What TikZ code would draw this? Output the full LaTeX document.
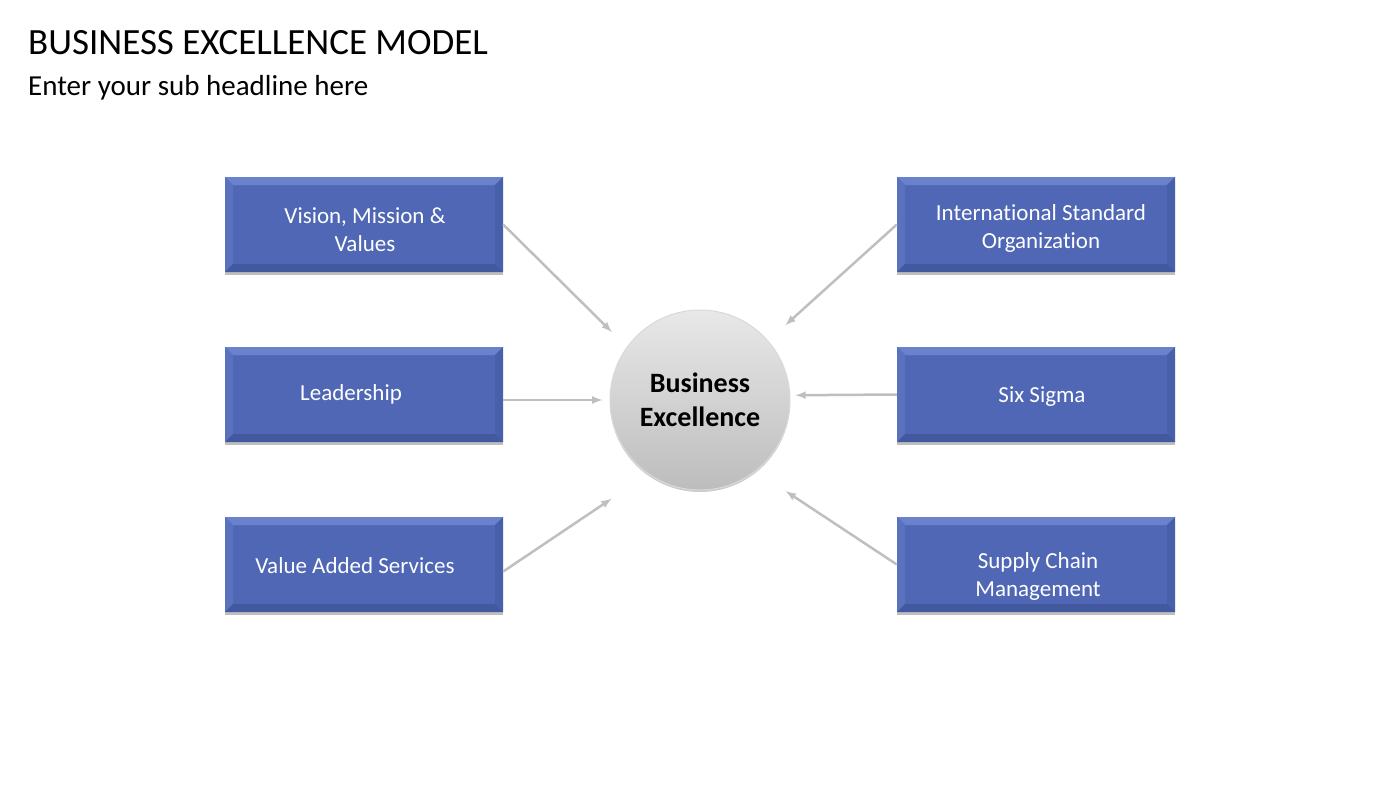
\documentclass[tikz,border=0pt]{standalone}
\usepackage{fontspec}
\setmainfont[Ligatures={NoCommon}]{Carlito}
\usetikzlibrary{positioning,shadows,calc}
\definecolor{boxblue}{HTML}{4F67B4}
\definecolor{bevtop}{HTML}{6A82CC}
\definecolor{bevleft}{HTML}{5A72BE}
\definecolor{bevright}{HTML}{4660AA}
\definecolor{bevbottom}{HTML}{43599F}
\definecolor{linkgray}{HTML}{BFBFBF}

\begin{document}
\begin{tikzpicture}[x=1pt,y=-1pt,
tile/.style={
		minimum width=278pt,
		minimum height=95pt,
		inner sep=0pt,
		fill=boxblue,
		drop shadow={shadow xshift=0pt, shadow yshift=-3pt, opacity=0.25, fill=black},
		path picture={
			\def \b {8}
			\coordinate (nw) at (path picture bounding box.north west);
			\coordinate (se) at (path picture bounding box.south east);
			\fill[bevtop] (nw) -- (nw -| se) -- ($(nw -| se)+(-\b,\b)$) -- ($(nw)+(\b,\b)$) -- cycle;
			\fill[bevleft] (nw) -- (nw |- se) -- ($(nw |- se)+(\b,-\b)$) -- ($(nw)+(\b,\b)$) -- cycle;
			\fill[bevright] (se) -- (nw -| se) -- ($(nw -| se)+(-\b,\b)$) -- ($(se)+(-\b,-\b)$) -- cycle;
			\fill[bevbottom] (se) -- (nw |- se) -- ($(nw |- se)+(\b,-\b)$) -- ($(se)+(-\b,-\b)$) -- cycle;
		}
		},
tiletext/.style={
		text=white,
		align=center,
		inner sep=0pt,
		font=\fontsize{23}{28}\selectfont,
		},
core/.style={
		circle,
		minimum size=180pt,
		inner sep=0pt,
		draw=gray!30,
		line width=1pt,
		top color=gray!18,
		bottom color=gray!52,
		align=center,
		font=\fontsize{28}{34}\selectfont\bfseries,
		drop shadow={shadow xshift=0pt, shadow yshift=-2pt, opacity=0.2, fill=black},
		},
link/.style={->, >=latex, draw=linkgray, line width=2.5pt}
]

\useasboundingbox (0,0) rectangle (1400,788);

% headline
\node[anchor=base west, inner sep=0pt, font=\fontsize{37}{42}\selectfont] (title) at (28,54) {BUSINESS EXCELLENCE MODEL};
\node[anchor=base west, inner sep=0pt, font=\fontsize{29}{33}\selectfont] (subtitle) at (28,95) {Enter your sub headline here};

% centre
\node[core] (core) at (700,400) {Business\\Excellence};

% boxes
\foreach \name/\px/\py/\dx/\dy/\txt in {vmv/364/224.5/1/5/{Vision, Mission \&\\Values},
  lead/364/394.5/-13/0/Leadership, vas/364/564.5/-9/1/Value Added Services,
  iso/1036/224.5/5/4/{International Standard\\Organization}, six/1036/394.5/6/2/Six Sigma,
  scm/1036/564.5/2/12/{Supply Chain\\Management}}
{
  \node[tile] (\name) at (\px,\py) {};
  \node[tiletext] (\name-txt) at ($(\name.center)+(\dx,\dy)$) {\txt};
}

\draw[link, shorten >=21pt] (vmv.east) -- (core.144);
\draw[link, shorten >=7pt] ([yshift=-5.5pt]lead.east) -- (core.west);
\draw[link, shorten >=44pt] ([yshift=-7pt]vas.east) -- (core.235);
\draw[link, shorten >=23pt] (iso.west) -- (core.41);
\draw[link, shorten >=5pt] (six.west) -- (core.3);
\draw[link, shorten >=36pt] (scm.west) -- (core.308);

\end{tikzpicture}
\end{document}
